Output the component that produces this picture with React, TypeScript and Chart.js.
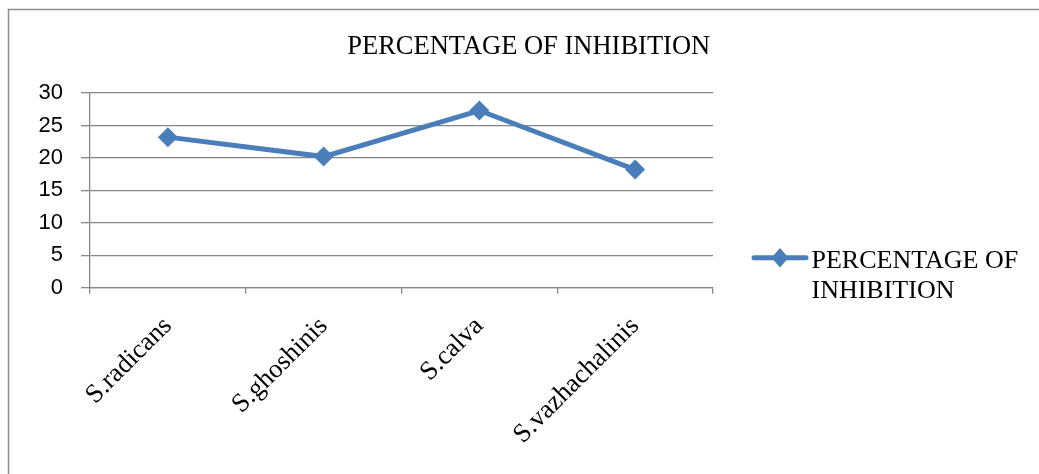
import React, { useEffect, useRef } from "react";
import { Chart, registerables } from "chart.js";

Chart.register(...registerables);

const categories: string[] = ["S.radicans", "S.ghoshinis", "S.calva", "S.vazhachalinis"];
const inhibition: number[] = [23.2, 20.2, 27.3, 18.2];
const seriesName = "PERCENTAGE OF INHIBITION";
const legendLines: string[] = ["PERCENTAGE OF", "INHIBITION"];
const yTicks = { min: 0, max: 30, step: 5 };

const LINE_COLOR = "#4A7EBB";
const GRID_COLOR = "#868686";

const decorPlugin = {
  id: "decor",
  afterDraw(chart: any) {
    const ctx = chart.ctx as CanvasRenderingContext2D;
    ctx.save();
    // frame
    ctx.strokeStyle = "#8c8c8c";
    ctx.lineWidth = 1.5;
    ctx.beginPath();
    ctx.moveTo(8.5, 480);
    ctx.lineTo(8.5, 9.5);
    ctx.lineTo(1039, 9.5);
    ctx.stroke();
    // title
    ctx.fillStyle = "#000";
    ctx.font = "26.5px 'Liberation Serif'";
    ctx.textAlign = "center";
    ctx.textBaseline = "alphabetic";
    ctx.fillText(seriesName, 528.7, 54);
    // legend
    ctx.strokeStyle = LINE_COLOR;
    ctx.lineWidth = 5;
    ctx.lineCap = "round";
    ctx.beginPath();
    ctx.moveTo(754, 257.7);
    ctx.lineTo(806, 257.7);
    ctx.stroke();
    ctx.fillStyle = LINE_COLOR;
    ctx.beginPath();
    ctx.moveTo(780, 248);
    ctx.lineTo(788.5, 257.7);
    ctx.lineTo(780, 267.4);
    ctx.lineTo(771.5, 257.7);
    ctx.closePath();
    ctx.fill();
    ctx.fillStyle = "#000";
    ctx.font = "26px 'Liberation Serif'";
    ctx.textAlign = "left";
    ctx.fillText(legendLines[0], 811.5, 268);
    ctx.fillText(legendLines[1], 811.5, 298);
    ctx.restore();
  },
};

export default function App() {
  const canvasRef = useRef<HTMLCanvasElement | null>(null);

  useEffect(() => {
    const canvas = canvasRef.current;
    if (!canvas) return;
    const chart = new Chart(canvas, {
      type: "line",
      data: {
        labels: categories,
        datasets: [
          {
            label: seriesName,
            data: inhibition,
            borderColor: LINE_COLOR,
            backgroundColor: LINE_COLOR,
            borderWidth: 5,
            pointStyle: "rectRot",
            pointRadius: 10,
            pointHoverRadius: 10,
            pointBorderWidth: 0,
            pointBackgroundColor: LINE_COLOR,
            tension: 0,
          },
        ],
      },
      options: {
        animation: false,
        responsive: false,
        devicePixelRatio: 1,
        layout: { padding: { left: 0, right: 326, top: 93, bottom: 0 } },
        plugins: {
          legend: { display: false },
          title: { display: false },
          tooltip: { enabled: false },
        },
        scales: {
          x: {
            type: "category",
            offset: true,
            grid: {
              offset: true,
              drawOnChartArea: false,
              drawTicks: true,
              tickLength: 6,
              color: GRID_COLOR,
              lineWidth: 1.3,
            },
            border: { display: true, color: GRID_COLOR, width: 1.3 },
            ticks: {
              autoSkip: false,
              maxRotation: 45,
              minRotation: 45,
              padding: 17,
              color: "#000",
              font: { family: "'Liberation Serif'", size: 26.5 },
            },
            afterFit(scale: any) {
              scale.height = 474 - 287.7;
            },
          },
          y: {
            min: yTicks.min,
            max: yTicks.max,
            ticks: {
              stepSize: yTicks.step,
              padding: 18,
              color: "#000",
              font: { family: "'Liberation Sans'", size: 22 },
            },
            grid: {
              color: GRID_COLOR,
              lineWidth: 1.3,
              tickLength: 9,
              drawTicks: true,
            },
            border: { display: true, color: GRID_COLOR, width: 1.3 },
            afterFit(scale: any) {
              scale.width = 90;
            },
          },
        },
      },
      plugins: [decorPlugin],
    });
    return () => chart.destroy();
  }, []);

  return (
    <div style={{ position: "fixed", left: 0, top: 0, width: 1039, height: 474, background: "#fff" }}>
      <canvas ref={canvasRef} width={1039} height={474} style={{ width: 1039, height: 474 }} />
    </div>
  );
}
